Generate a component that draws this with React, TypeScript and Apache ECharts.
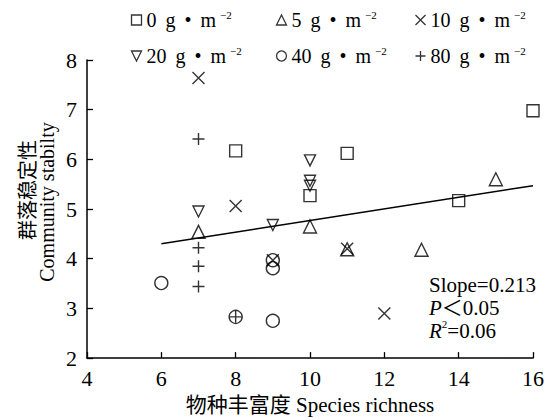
import React, { useEffect, useRef } from "react";
import * as echarts from "echarts";

// ---- data ----
const seriesNames = ["0", "5", "10", "20", "40", "80"];
const sq0 = [[8, 6.17], [10, 5.27], [11, 6.12], [14, 5.17], [16, 6.98]];
const tri5 = [[7, 4.54], [10, 4.65], [11, 4.19], [13, 4.18], [15, 5.6]];
const x10 = [[7, 7.64], [8, 5.06], [9, 3.97], [11, 4.2], [12, 2.9]];
const dt20 = [[7, 4.95], [9, 4.68], [10, 5.98], [10, 5.57], [10, 5.47]];
const c40 = [[6, 3.51], [8, 2.83], [9, 3.97], [9, 3.81], [9, 2.75]];
const p80 = [[7, 6.41], [7, 4.22], [7, 3.85], [7, 3.44], [8, 2.83]];
const fitX = [6, 16];
const fitY = [4.3, 5.47];
const xTicks = { min: 4, max: 16, interval: 2 };
const yTicks = { min: 2, max: 8, interval: 1 };
const annotLines = ["Slope=0.213", "0.05", "=0.06"];

const SERIF = "'Liberation Serif', 'Times New Roman', 'Noto Sans CJK SC', serif";

const ICONS: Record<string, string> = {
  "0": "path://M0,0L10,0L10,10L0,10Z",
  "5": "path://M5,0L10,10L0,10Z",
  "10": "path://M0,0L10,10M10,0L0,10",
  "20": "path://M0,0L10,0L5,10Z",
  "40": "circle",
  "80": "path://M5,0L5,10M0,5L10,5",
};
const SIZES: Record<string, number> = { "0": 12, "5": 13, "10": 12, "20": 11, "40": 13, "80": 12 };
const DATA: Record<string, number[][]> = { "0": sq0, "5": tri5, "10": x10, "20": dt20, "40": c40, "80": p80 };

const legendPos: Record<string, [number, number]> = {
  "0": [129, 9],
  "5": [274, 9],
  "10": [413, 9],
  "20": [129, 45],
  "40": [274, 45],
  "80": [413, 45],
};

export default function App() {
  const ref = useRef<HTMLDivElement>(null);
  useEffect(() => {
    document.body.style.margin = "0";
    if (!ref.current) return;
    const chart = echarts.init(ref.current, undefined, { renderer: "svg" });
    const scatterSeries = seriesNames.map((n) => ({
      name: n,
      type: "scatter",
      data: DATA[n],
      symbol: ICONS[n],
      symbolSize: SIZES[n],
      itemStyle: { color: "none", borderColor: "#000", borderWidth: 1.4 },
      z: 3,
    }));
    const legends = seriesNames.map((n) => ({
      data: [{ name: n, icon: ICONS[n] }],
      left: legendPos[n][0],
      top: legendPos[n][1],
      padding: 0,
      itemWidth: 10,
      itemHeight: 10,
      selectedMode: false,
      itemStyle: { color: "none", borderColor: "#000", borderWidth: 1.3 },
      formatter: "{name} \u2009g \u2009•\u2009 m{s|−2}",
      textStyle: {
        fontFamily: SERIF,
        fontSize: 20,
        color: "#000",
        lineHeight: 22,
        rich: {
          s: { fontSize: 11, fontFamily: SERIF, color: "#000", verticalAlign: "top", padding: [0, 0, 0, 4], lineHeight: 22 },
        },
      },
    }));
    chart.setOption({
      animation: false,
      grid: { left: 87, right: 22, top: 60, bottom: 57 },
      legend: legends,
      xAxis: {
        type: "value",
        ...xTicks,
        name: "物种丰富度 Species richness",
        nameLocation: "middle",
        nameGap: 34,
        nameTextStyle: { fontFamily: SERIF, fontSize: 21, color: "#000" },
        axisLine: { lineStyle: { color: "#000", width: 1.5 } },
        axisTick: { inside: true, length: 6, lineStyle: { color: "#000", width: 1.3 } },
        axisLabel: { fontFamily: SERIF, fontSize: 22, color: "#000", margin: 9 },
        splitLine: { show: false },
      },
      yAxis: {
        type: "value",
        ...yTicks,
        axisLine: { show: true, lineStyle: { color: "#000", width: 1.5 } },
        axisTick: { show: true, inside: true, length: 6, lineStyle: { color: "#000", width: 1.3 } },
        axisLabel: { fontFamily: SERIF, fontSize: 22, color: "#000", margin: 10 },
        splitLine: { show: false },
      },
      series: [
        ...scatterSeries,
        {
          name: "fit",
          type: "line",
          data: fitX.map((x, i) => [x, fitY[i]]),
          symbol: "none",
          lineStyle: { color: "#000", width: 1.5 },
          z: 2,
        },
      ],
      graphic: [
        {
          type: "text",
          x: 26,
          y: 190,
          rotation: Math.PI / 2,
          style: {
            text: "群落稳定性",
            font: "20px 'Noto Sans CJK SC', sans-serif",
            fill: "#000",
            align: "center",
            verticalAlign: "middle",
          },
        },
        {
          type: "text",
          x: 47,
          y: 202,
          rotation: Math.PI / 2,
          style: {
            text: "Community stabilty",
            font: "20px 'Liberation Serif', 'Times New Roman', serif",
            fill: "#000",
            align: "center",
            verticalAlign: "middle",
          },
        },
        {
          type: "text",
          left: 429,
          top: 274,
          style: {
            text: `{a|${annotLines[0]}}\n{i|P}{a|＜${annotLines[1]}}\n{i|R}{s|2}{a|${annotLines[2]}}`,
            fill: "#000",
            rich: {
              a: { fontFamily: SERIF, fontSize: 21, lineHeight: 23, fill: "#000" },
              i: { fontFamily: SERIF, fontSize: 21, fontStyle: "italic", lineHeight: 23, fill: "#000" },
              s: { fontFamily: SERIF, fontSize: 11, lineHeight: 23, verticalAlign: "top", fill: "#000" },
            },
          },
        },
      ],
    });
    return () => chart.dispose();
  }, []);
  return <div ref={ref} style={{ width: 555, height: 420 }} />;
}
